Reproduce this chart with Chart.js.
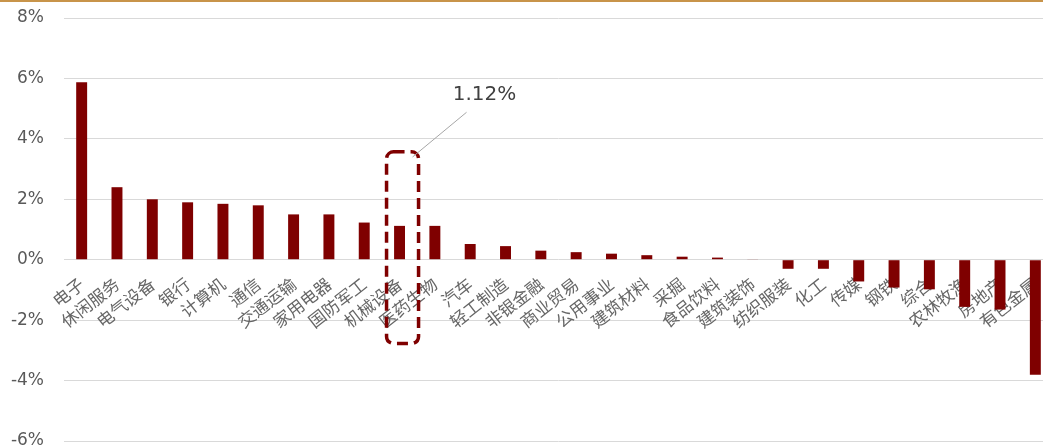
<!DOCTYPE html>
<html>
<head>
<meta charset="utf-8">
<script src="https://cdn.jsdelivr.net/npm/chart.js@4/dist/chart.umd.min.js"></script>
<style>
  html, body { margin: 0; padding: 0; background: #fff; overflow: hidden; }
  #wrap { position: relative; width: 1053px; height: 445px; border-top: 2px solid #c8944a; }
</style>
</head>
<body>
<div id="wrap"><canvas id="chart"></canvas></div>
<script>
// industries, sorted by return
const industries = ['电子', '休闲服务', '电气设备', '银行', '计算机', '通信', '交通运输', '家用电器', '国防军工', '机械设备',
  '医药生物', '汽车', '轻工制造', '非银金融', '商业贸易', '公用事业', '建筑材料', '采掘', '食品饮料', '建筑装饰',
  '纺织服装', '化工', '传媒', '钢铁', '综合', '农林牧渔', '房地产', '有色金属'];

// weekly return, %
const returns = [5.87, 2.4, 2.0, 1.9, 1.85, 1.8, 1.5, 1.5, 1.23, 1.12,
  1.12, 0.52, 0.45, 0.3, 0.25, 0.2, 0.15, 0.1, 0.07, 0.02,
  -0.3, -0.3, -0.72, -0.92, -0.98, -1.56, -1.65, -3.81];

const yTicks = [-6, -4, -2, 0, 2, 4, 6, 8];

// highlighted bar and its label
const highlightIndex = 9;
const highlightLabel = '1.12%';

const highlightPlugin = {
  id: 'highlight',
  afterDatasetsDraw(chart) {
    const { ctx, scales: { x, y } } = chart;
    const cx = x.getPixelForValue(highlightIndex) + 3;
    const top = y.getPixelForValue(3.57);
    const bottom = y.getPixelForValue(-2.77);
    const left = cx - 16, right = cx + 16, r = 7;

    ctx.save();
    // dashed rounded box
    ctx.strokeStyle = '#7f0000';
    ctx.lineWidth = 3.5;
    ctx.setLineDash([11, 6]);
    ctx.beginPath();
    ctx.moveTo(left + r, top);
    ctx.lineTo(right - r, top);
    ctx.arcTo(right, top, right, top + r, r);
    ctx.lineTo(right, bottom - r);
    ctx.arcTo(right, bottom, right - r, bottom, r);
    ctx.lineTo(left + r, bottom);
    ctx.arcTo(left, bottom, left, bottom - r, r);
    ctx.lineTo(left, top + r);
    ctx.arcTo(left, top, left + r, top, r);
    ctx.stroke();

    // leader line
    ctx.setLineDash([]);
    ctx.strokeStyle = '#a6a6a6';
    ctx.lineWidth = 1;
    ctx.beginPath();
    ctx.moveTo(cx + 64, y.getPixelForValue(4.88));
    ctx.lineTo(cx + 10, y.getPixelForValue(3.4));
    ctx.stroke();

    // label
    ctx.fillStyle = '#404040';
    ctx.font = '20px "DejaVu Sans"';
    ctx.textAlign = 'center';
    ctx.textBaseline = 'middle';
    ctx.fillText(highlightLabel, cx + 82, y.getPixelForValue(5.47));
    ctx.restore();
  }
};

const ctx = document.getElementById('chart').getContext('2d');

new Chart(ctx, {
  type: 'bar',
  data: {
    labels: industries,
    datasets: [{
      data: returns,
      backgroundColor: '#7f0000',
      barPercentage: 0.62,
      categoryPercentage: 0.5
    }]
  },
  options: {
    responsive: true,
    maintainAspectRatio: false,
    animation: false,
    layout: { padding: { top: 16, bottom: 6, left: 0, right: 0 } },
    plugins: {
      legend: { display: false },
      tooltip: { enabled: false }
    },
    scales: {
      x: {
        position: { y: 0 },
        grid: { display: false },
        border: { display: false },
        ticks: {
          autoSkip: false,
          maxRotation: 38,
          minRotation: 38,
          padding: 6,
          color: '#666666',
          font: { family: '"Noto Sans CJK SC"', size: 17 }
        },
        afterFit(scale) {
          scale.height = 0;
          scale.paddingLeft = 0;
          scale.paddingRight = 0;
        }
      },
      y: {
        min: -6,
        max: 8,
        afterBuildTicks(scale) { scale.ticks = yTicks.map(v => ({ value: v })); },
        grid: { color: '#d9d9d9', drawTicks: false },
        border: { display: false },
        ticks: {
          padding: 20,
          color: '#595959',
          font: { family: '"DejaVu Sans"', size: 17 },
          callback: v => v + '%'
        },
        afterFit(scale) {
          scale.width = 64;
          scale.paddingTop = 0;
          scale.paddingBottom = 0;
        }
      }
    }
  },
  plugins: [highlightPlugin]
});
</script>
</body>
</html>
